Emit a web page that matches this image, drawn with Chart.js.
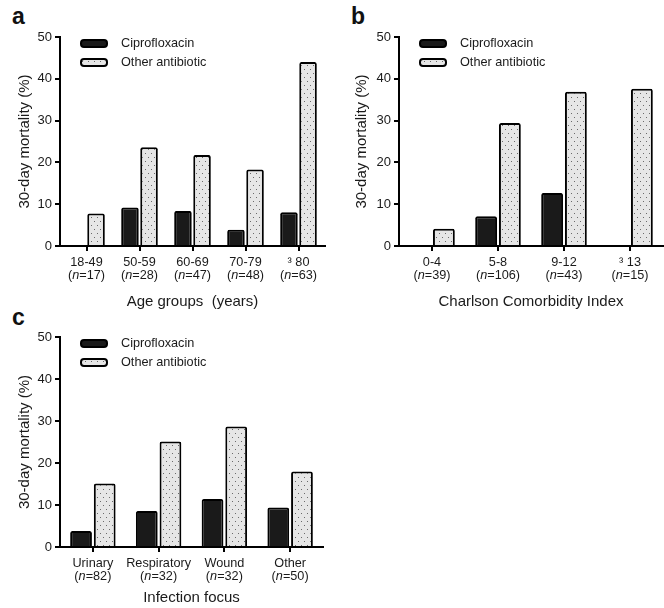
<!DOCTYPE html>
<html>
<head>
<meta charset="utf-8">
<script src="https://cdn.jsdelivr.net/npm/chart.js@4.4.1/dist/chart.umd.min.js"></script>
<style>
  body { margin: 0; background: #fff; width: 664px; height: 608px; position: relative; overflow: hidden; font-family: "Liberation Sans", Arial, sans-serif; }
  canvas { position: absolute; }
  .tag { position: absolute; font-weight: bold; font-size: 23px; line-height: 1; color: #111; }
</style>
</head>
<body>
<div class="tag" style="left:12px;top:5px">a</div>
<div class="tag" style="left:351px;top:5px">b</div>
<div class="tag" style="left:12px;top:306px">c</div>
<canvas id="chartA" width="330" height="312" style="left:0;top:0"></canvas>
<canvas id="chartB" width="334" height="312" style="left:330px;top:0"></canvas>
<canvas id="chartC" width="330" height="296" style="left:0;top:312px"></canvas>
<script>
// values (30-day mortality, %)
const ageGroups = ["18-49", "50-59", "60-69", "70-79", "³ 80"];
const ageCounts = [17, 28, 47, 48, 63];
const ageCipro = [0, 9.2, 8.4, 3.9, 8.1];
const ageOther = [7.8, 23.6, 21.8, 18.3, 44.0];

const cciGroups = ["0-4", "5-8", "9-12", "³ 13"];
const cciCounts = [39, 106, 43, 15];
const cciCipro = [0, 7.1, 12.7, 0];
const cciOther = [4.1, 29.4, 36.9, 37.6];

const focusGroups = ["Urinary", "Respiratory", "Wound", "Other"];
const focusCounts = [82, 32, 32, 50];
const focusCipro = [3.8, 8.6, 11.4, 9.4];
const focusOther = [15.1, 25.1, 28.7, 18.0];

const seriesNames = ["Ciprofloxacin", "Other antibiotic"];

const FAMILY = '"Liberation Sans", Arial, sans-serif';
const FONT = "12.7px " + FAMILY;
const ITALIC = "italic 12.7px " + FAMILY;
const INK = "#1a1a1a";

function dotPattern(ctx) {
    const c = document.createElement("canvas");
    c.width = 6;
    c.height = 8;
    const g = c.getContext("2d");
    g.fillStyle = "#e6e6e6";
    g.fillRect(0, 0, 6, 8);
    g.fillStyle = "#6a6a6a";
    g.fillRect(1, 1, 1, 1);
    g.fillRect(4, 5, 1, 1);
    return ctx.createPattern(c, "repeat");
}

// legend drawn inside the plot, top-left
const legendBox = {
    id: "legendBox",
    afterDraw(chart) {
        const { ctx, chartArea } = chart;
        chart.data.datasets.forEach((ds, i) => {
            const x = chartArea.left + 21;
            const y = chartArea.top + 6.5 + i * 19;
            ctx.save();
            ctx.beginPath();
            ctx.roundRect(x, y - 3.5, 26, 7, 3);
            ctx.fillStyle = ds.backgroundColor;
            ctx.fill();
            ctx.lineWidth = 2;
            ctx.strokeStyle = "#000";
            ctx.stroke();
            ctx.fillStyle = INK;
            ctx.font = FONT;
            ctx.textBaseline = "middle";
            ctx.fillText(ds.label, chartArea.left + 61, y);
            ctx.restore();
        });
    },
};

// two-line category labels with italic n
function countLabels(counts) {
    return {
        id: "countLabels",
        afterDraw(chart) {
            const { ctx, chartArea } = chart;
            const xs = chart.scales.x;
            ctx.save();
            ctx.fillStyle = INK;
            ctx.textBaseline = "middle";
            chart.data.labels.forEach((lab, i) => {
                const x = xs.getPixelForValue(i);
                ctx.font = FONT;
                ctx.textAlign = "center";
                ctx.fillText(lab, x, chartArea.bottom + 16);
                const parts = [["(", FONT], ["n", ITALIC], ["=" + counts[i] + ")", FONT]];
                let w = 0;
                parts.forEach((p) => {
                    ctx.font = p[1];
                    w += ctx.measureText(p[0]).width;
                });
                let cx = x - w / 2;
                ctx.textAlign = "left";
                parts.forEach((p) => {
                    ctx.font = p[1];
                    ctx.fillText(p[0], cx, chartArea.bottom + 29.5);
                    cx += ctx.measureText(p[0]).width;
                });
            });
            ctx.restore();
        },
    };
}

function makeChart(id, labels, counts, cipro, other, xTitle, geo) {
    const ctx = document.getElementById(id).getContext("2d");
    return new Chart(ctx, {
        type: "bar",
        data: {
            labels: labels,
            datasets: [
                {
                    label: seriesNames[0],
                    data: cipro,
                    backgroundColor: "#1a1a1a",
                    borderColor: "#000",
                    borderWidth: 2,
                    borderRadius: 2,
                    categoryPercentage: 0.72,
                    barPercentage: 0.92,
                },
                {
                    label: seriesNames[1],
                    data: other,
                    backgroundColor: dotPattern(ctx),
                    borderColor: "#000",
                    borderWidth: 2,
                    borderRadius: 2,
                    categoryPercentage: 0.72,
                    barPercentage: 0.92,
                },
            ],
        },
        options: {
            responsive: false,
            animation: false,
            layout: { padding: { top: geo.top, right: geo.right, left: 0, bottom: 0 } },
            plugins: {
                legend: { display: false },
                tooltip: { enabled: false },
            },
            scales: {
                x: {
                    afterFit: (s) => { s.height = geo.xHeight; },
                    ticks: { display: false },
                    grid: {
                        offset: false,
                        drawOnChartArea: false,
                        drawTicks: true,
                        tickLength: 5,
                        color: "#000",
                        lineWidth: 2,
                    },
                    border: { color: "#000", width: 2 },
                    title: {
                        display: true,
                        text: xTitle,
                        color: INK,
                        font: { family: FAMILY, size: 15 },
                        padding: { top: 0, bottom: 1 },
                    },
                },
                y: {
                    min: 0,
                    max: 50,
                    afterFit: (s) => { s.width = geo.yWidth; },
                    ticks: {
                        stepSize: 10,
                        padding: 3,
                        color: INK,
                        font: { family: FAMILY, size: 13 },
                    },
                    grid: {
                        drawOnChartArea: false,
                        drawTicks: true,
                        tickLength: 5,
                        color: "#000",
                        lineWidth: 2,
                    },
                    border: { color: "#000", width: 2 },
                    title: {
                        display: true,
                        text: "30-day mortality (%)",
                        color: INK,
                        font: { family: FAMILY, size: 15 },
                        padding: { top: geo.yTitlePad, bottom: 0 },
                    },
                },
            },
        },
        plugins: [legendBox, countLabels(counts)],
    });
}

makeChart("chartA", ageGroups, ageCounts, ageCipro, ageOther, "Age groups  (years)",
    { top: 37, right: 5, xHeight: 66, yWidth: 60, yTitlePad: 16 });
makeChart("chartB", cciGroups, cciCounts, cciCipro, cciOther, "Charlson Comorbidity Index",
    { top: 37, right: 1, xHeight: 66, yWidth: 69, yTitlePad: 23 });
makeChart("chartC", focusGroups, focusCounts, focusCipro, focusOther, "Infection focus",
    { top: 25, right: 7, xHeight: 61, yWidth: 60, yTitlePad: 16 });
</script>
</body>
</html>
